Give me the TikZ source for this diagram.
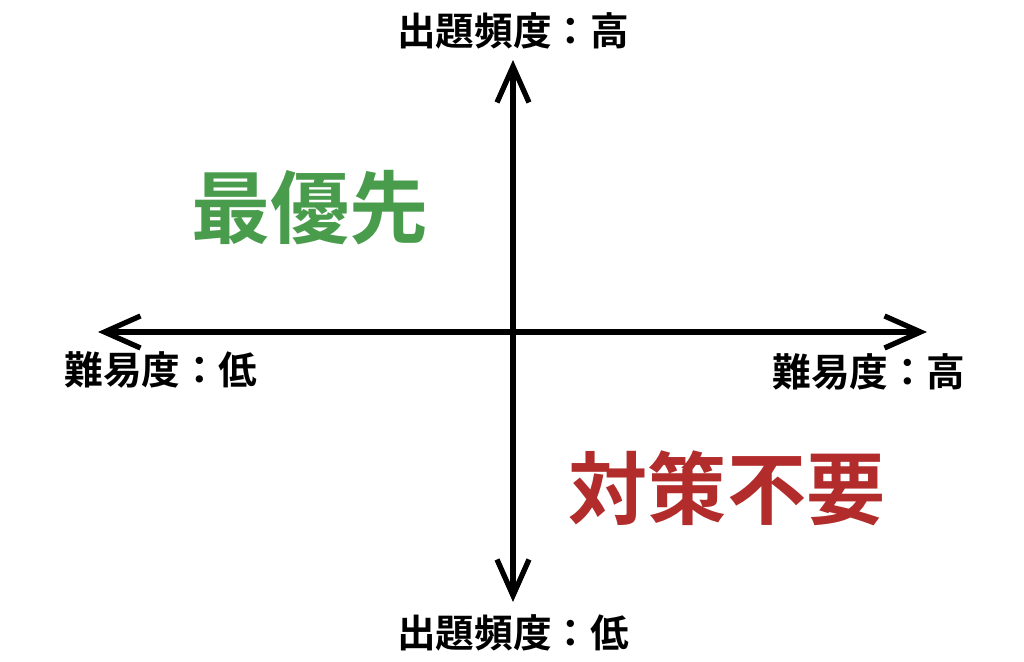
\documentclass[tikz,border=0pt]{standalone}
\usepackage{fontspec}
\newfontfamily\jp{Noto Sans CJK JP}[BoldFont={Noto Sans CJK JP Bold}]
\usetikzlibrary{arrows.meta}
\definecolor{prioritygreen}{RGB}{72,156,76}
\definecolor{skipred}{RGB}{178,44,44}
\begin{document}
\begin{tikzpicture}[
    axis/.style={line width=1.5pt,{Straight Barb[length=3.6mm,width=3.2mm,line width=1.5pt]}-{Straight Barb[length=3.6mm,width=3.2mm,line width=1.5pt]}},
    lbl/.style={font=\jp\bfseries\fontsize{11pt}{13pt}\selectfont},
    big/.style={font=\jp\bfseries\fontsize{22.5pt}{26pt}\selectfont}]
  \useasboundingbox[fill=white] (0,0) rectangle (10.24,6.62);
  \coordinate (top) at (5.13,6.02);
  \coordinate (bottom) at (5.13,0.60);
  \coordinate (left) at (0.98,3.30);
  \coordinate (right) at (9.27,3.30);
  \draw[axis] (left)--(right);
  \draw[axis] (bottom)--(top);
  \node[lbl] (freqhigh) at (5.13,6.31) {出題頻度：高};
  \node[lbl] (freqlow) at (5.13,0.29) {出題頻度：低};
  \node[lbl] (difflow) at (1.61,2.92) {難易度：低};
  \node[lbl] (diffhigh) at (8.69,2.90) {難易度：高};
  \node[big,text=prioritygreen] (first) at (3.10,4.54) {最優先};
  \node[big,text=skipred] (skip) at (7.27,1.74) {対策不要};
\end{tikzpicture}
\end{document}
